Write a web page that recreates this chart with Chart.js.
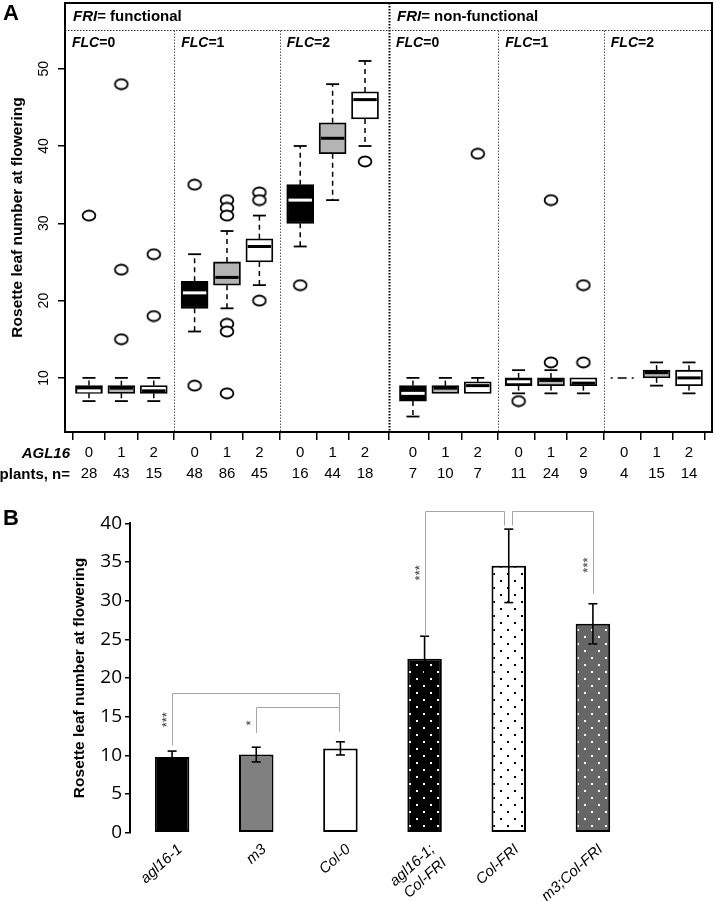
<!DOCTYPE html>
<html lang="en">
<head>
  <meta charset="UTF-8">
  <title>Rosette leaf number at flowering</title>
  <style>
    body {
      margin: 0;
      background: #fff;
      font-family: "Liberation Sans", Arial, sans-serif;
    }
    .page {
      position: relative;
      width: 714px;
      height: 901px;
    }
    .panel-label {
      position: absolute;
      left: 3px;
      font-weight: bold;
      font-size: 22px;
      line-height: 22px;
    }
    canvas {
      position: absolute;
      left: 0;
    }
  </style>
  <script src="https://cdn.jsdelivr.net/npm/chart.js@4.4.1/dist/chart.umd.min.js"></script>
</head>
<body>
  <div class="page">
    <canvas id="boxChart" width="714" height="500" style="top:0"></canvas>
    <canvas id="barChart" width="714" height="401" style="top:500px"></canvas>
    <div class="panel-label" style="top:2px">A</div>
    <div class="panel-label" style="top:507px">B</div>
  </div>

  <script>
    // ---- Panel A: boxplot summaries (FRI x FLC groups, 3 AGL16 copy numbers each) ----
    const agl16Copies = ['0', '1', '2'];
    const flcGroups = ['0', '1', '2', '0', '1', '2'];
    const friGroups = ['functional', 'non-functional'];
    const plantsN = [28, 43, 15, 48, 86, 45, 16, 44, 18, 7, 10, 7, 11, 24, 9, 4, 15, 14];
    const whiskerLow = [7, 7, 7, 16, 19, 22, 27, 33, 40, 5, 8, 8, 8, 8, 8, 10, 9, 8];
    const boxLow = [8, 8, 8, 19, 22, 25, 30, 39, 43.5, 7, 8, 8, 9, 9, 9, 10, 10, 9];
    const boxMedian = [8, 9, 8, 21, 23, 27, 33, 41, 46, 8, 9, 9, 9.5, 10, 9, 10, 11, 10];
    const boxHigh = [9, 9, 9, 22.5, 25, 28, 35, 43, 47, 9, 9, 9.5, 10, 10, 10, 10, 11, 11];
    const whiskerHigh = [10, 10, 10, 26, 29, 31, 40, 48, 51, 10, 10, 10, 11, 11, 10, 10, 12, 12];
    const outlierValues = [
      [31], [48, 24, 15], [26, 18],
      [35, 9], [33, 32, 31, 17, 16, 8], [34, 33, 20],
      [22], [], [38],
      [], [], [39],
      [7], [12, 33], [12, 22],
      [], [], []
    ];
    const yTicksA = [10, 20, 30, 40, 50];

    // ---- Panel B: mean leaf number +/- sd per line ----
    const strains = ['agl16-1', 'm3', 'Col-0', ['agl16-1;', 'Col-FRI'], 'Col-FRI', 'm3;Col-FRI'];
    const meanLeaves = [9.8, 10.1, 10.9, 22.5, 34.5, 27.0];
    const sdLeaves = [0.75, 0.95, 0.85, 2.9, 4.75, 2.6];
    const yTicksB = [0, 5, 10, 15, 20, 25, 30, 35, 40];
    // significance brackets: tested line vs its control
    const sigTest = [0, 1, 3, 5];
    const sigControl = [2, 2, 4, 4];
    const sigLabel = ['***', '*', '***', '***'];
    const sigLevel = [18.1, 16.2, 41.6, 41.6];
    const sigTestEnd = [11.3, 12.9, 25.4, 30.9];
    const sigControlEnd = [13.1, 13.1, 39.7, 39.7];
    const sigStarAt = [14.6, 14.2, 33.6, 34.6];

    const FONT = '"Liberation Sans", Arial, sans-serif';
    Chart.defaults.font.family = FONT;
    Chart.defaults.color = '#000';

    // x position of box i: groups of three, a little extra gap between FRI halves
    const boxX = i => Math.floor(i / 3) * 3.26 + (i % 3) + (i >= 9 ? 0.22 : 0);

    function seg(ctx, x1, y1, x2, y2) {
      ctx.beginPath();
      ctx.moveTo(x1, y1);
      ctx.lineTo(x2, y2);
      ctx.stroke();
    }

    function richText(ctx, parts, x, y, size) {
      parts.forEach(([txt, italic]) => {
        ctx.font = (italic ? 'italic ' : '') + 'bold ' + size + 'px ' + FONT;
        ctx.fillText(txt, x, y);
        x += ctx.measureText(txt).width;
      });
    }

    // open circle, slightly wider than tall like the figure
    const ring = document.createElement('canvas');
    ring.width = 16;
    ring.height = 13;
    (function () {
      const c = ring.getContext('2d');
      c.beginPath();
      c.ellipse(8, 6.5, 6.4, 5, 0, 0, Math.PI * 2);
      c.fillStyle = '#fff';
      c.fill();
      c.lineWidth = 1.8;
      c.strokeStyle = '#000';
      c.stroke();
    })();

    const boxFills = ['#000000', '#b4b4b4', '#ffffff'];
    const boxDatasets = agl16Copies.map((copy, k) => ({
      type: 'bar',
      label: 'AGL16 = ' + copy,
      data: boxMedian.map((_, i) => i).filter(i => i % 3 === k)
        .map(i => ({ x: boxX(i), y: [boxLow[i], boxHigh[i]] })),
      backgroundColor: boxFills[k],
      borderColor: '#000',
      borderWidth: 1.8,
      borderSkipped: false,
      barThickness: 27,
      grouped: false,
      order: 2
    }));

    const outlierPoints = [];
    outlierValues.forEach((vals, i) => vals.forEach(v => outlierPoints.push({ x: boxX(i), y: v })));

    const boxParts = {
      id: 'boxParts',
      beforeDatasetsDraw(chart) {
        const { ctx, chartArea: a, scales: { x, y } } = chart;
        const headY = Math.round(y.getPixelForValue(55)) + 0.5;
        ctx.save();
        ctx.setLineDash([1.5, 1.5]);
        for (let g = 0; g < 5; g++) {
          const sx = Math.round((x.getPixelForValue(boxX(3 * g + 2)) + x.getPixelForValue(boxX(3 * g + 3))) / 2) + 0.5;
          const middle = g === 2;
          ctx.strokeStyle = middle ? '#000' : '#555';
          ctx.lineWidth = middle ? 2 : 1;
          seg(ctx, sx, middle ? a.top : headY, sx, a.bottom);
        }
        ctx.strokeStyle = '#333';
        ctx.lineWidth = 1;
        seg(ctx, a.left, headY, a.right, headY);
        ctx.restore();
      },
      afterDatasetsDraw(chart) {
        const { ctx, scales: { x, y } } = chart;
        const half = 13.5, staple = 6.5;
        ctx.save();
        boxMedian.forEach((m, i) => {
          const px = x.getPixelForValue(boxX(i));
          const yLo = y.getPixelForValue(whiskerLow[i]);
          const yQ1 = y.getPixelForValue(boxLow[i]);
          const yQ3 = y.getPixelForValue(boxHigh[i]);
          const yHi = y.getPixelForValue(whiskerHigh[i]);
          let yMed = y.getPixelForValue(m);
          ctx.strokeStyle = '#000';
          ctx.lineWidth = 1.5;
          ctx.setLineDash([5, 4]);
          if (whiskerHigh[i] > boxHigh[i]) seg(ctx, px, yQ3, px, yHi);
          if (whiskerLow[i] < boxLow[i]) seg(ctx, px, yQ1, px, yLo);
          ctx.setLineDash([]);
          ctx.lineWidth = 1.8;
          if (whiskerHigh[i] > boxHigh[i]) seg(ctx, px - staple, yHi, px + staple, yHi);
          if (whiskerLow[i] < boxLow[i]) seg(ctx, px - staple, yLo, px + staple, yLo);
          if (boxLow[i] === boxHigh[i]) {
            ctx.lineWidth = 1.5;
            ctx.setLineDash([2, 5, 9, 5]);
            seg(ctx, px - half, yMed, px + half, yMed);
            ctx.setLineDash([]);
          } else {
            yMed = Math.min(Math.max(yMed, yQ3 + 2.5), yQ1 - 2.5);
            ctx.lineWidth = 3;
            ctx.strokeStyle = i % 3 === 0 ? '#fff' : '#000';
            seg(ctx, px - half + 1.8, yMed, px + half - 1.8, yMed);
          }
        });
        ctx.restore();
      },
      afterDraw(chart) {
        const { ctx, chartArea: a, scales: { x, y } } = chart;
        const headY = y.getPixelForValue(55);
        ctx.save();
        ctx.strokeStyle = '#000';
        ctx.lineWidth = 2;
        ctx.strokeRect(a.left, a.top, a.right - a.left, a.bottom - a.top);

        ctx.fillStyle = '#000';
        ctx.textBaseline = 'alphabetic';
        ctx.textAlign = 'left';
        const bounds = [a.left];
        for (let g = 0; g < 5; g++) {
          bounds.push((x.getPixelForValue(boxX(3 * g + 2)) + x.getPixelForValue(boxX(3 * g + 3))) / 2);
        }
        friGroups.forEach((f, h) => {
          richText(ctx, [['FRI', true], ['= ' + f, false]], bounds[h * 3] + 8, a.top + 18, 15);
        });
        flcGroups.forEach((f, g) => {
          richText(ctx, [['FLC', true], ['=' + f, false]], bounds[g] + 7, headY + 17, 14);
        });

        ctx.textAlign = 'right';
        ctx.font = 'italic bold 15px ' + FONT;
        ctx.fillText('AGL16', 70, x.top + 26);
        ctx.font = 'bold 15px ' + FONT;
        ctx.fillText('plants, n=', 70, x.top + 47);
        ctx.restore();
      }
    };

    new Chart(document.getElementById('boxChart'), {
      type: 'bar',
      data: {
        datasets: [
          ...boxDatasets,
          {
            type: 'scatter',
            label: 'outliers',
            data: outlierPoints,
            pointStyle: ring,
            pointRadius: 6,
            order: 1
          }
        ]
      },
      options: {
        responsive: false,
        animation: false,
        layout: { autoPadding: false, padding: { top: 3, right: 2, left: 0, bottom: 0 } },
        plugins: { legend: { display: false }, tooltip: { enabled: false } },
        scales: {
          x: {
            type: 'linear',
            min: -0.74,
            max: 19.23,
            offset: false,
            afterBuildTicks: s => { s.ticks = plantsN.map((_, i) => ({ value: boxX(i) })); },
            afterFit: s => { s.height = 68; s.paddingLeft = 0; s.paddingRight = 0; },
            grid: { drawOnChartArea: false, drawTicks: true, tickLength: 8, color: '#000', lineWidth: 1.5 },
            border: { display: false },
            ticks: {
              autoSkip: false,
              minRotation: 0,
              maxRotation: 0,
              padding: 2,
              color: '#000',
              font: { size: 15, lineHeight: 1.4 },
              callback: (v, i) => [agl16Copies[i % 3], String(plantsN[i])]
            }
          },
          y: {
            min: 3,
            max: 58.5,
            afterBuildTicks: s => { s.ticks = yTicksA.map(v => ({ value: v })); },
            afterFit: s => { s.width = 65; s.paddingTop = 0; s.paddingBottom = 0; },
            grid: { drawOnChartArea: false, tickLength: 7, color: '#000', lineWidth: 1.5 },
            border: { display: false },
            ticks: { minRotation: 90, maxRotation: 90, crossAlign: 'center', padding: 6, color: '#000', font: { size: 14 } },
            title: {
              display: true,
              text: 'Rosette leaf number at flowering',
              color: '#000',
              font: { size: 15.5, weight: 'bold' },
              padding: { top: 8, bottom: 0 }
            }
          }
        }
      },
      plugins: [boxParts]
    });

    // ---- Panel B ----
    const barCtx = document.getElementById('barChart').getContext('2d');

    function dotted(bg, dot) {
      const c = document.createElement('canvas');
      c.width = 14;
      c.height = 14;
      const g = c.getContext('2d');
      g.fillStyle = bg;
      g.fillRect(0, 0, 14, 14);
      g.fillStyle = dot;
      g.fillRect(3, 3, 2, 2);
      g.fillRect(10, 10, 2, 2);
      return barCtx.createPattern(c, 'repeat');
    }

    const barFills = ['#000000', '#808080', '#ffffff',
      dotted('#000000', '#ffffff'), dotted('#ffffff', '#000000'), dotted('#666666', '#ffffff')];

    const errorBars = {
      id: 'errorBars',
      afterDatasetsDraw(chart) {
        const { ctx, scales: { x, y } } = chart;
        ctx.save();
        ctx.strokeStyle = '#000';
        ctx.lineWidth = 1.6;
        meanLeaves.forEach((m, i) => {
          const px = x.getPixelForValue(i);
          const yTop = y.getPixelForValue(m + sdLeaves[i]);
          const yBot = y.getPixelForValue(m - sdLeaves[i]);
          seg(ctx, px, yTop, px, yBot);
          seg(ctx, px - 4.5, yTop, px + 4.5, yTop);
          seg(ctx, px - 4.5, yBot, px + 4.5, yBot);
        });

        // significance brackets
        ctx.strokeStyle = '#a6a6a6';
        ctx.lineWidth = 1;
        sigTest.forEach((t, j) => {
          const c = sigControl[j];
          const shared = sigControl.filter((cc, k) => cc === c && sigLevel[k] === sigLevel[j]).length > 1;
          const shift = shared ? (t < c ? -4 : 4) : 0;
          const tx = Math.round(x.getPixelForValue(t)) + 0.5;
          const cx = Math.round(x.getPixelForValue(c) + shift) - 0.5;
          const yl = Math.round(y.getPixelForValue(sigLevel[j])) + 0.5;
          ctx.beginPath();
          ctx.moveTo(tx, y.getPixelForValue(sigTestEnd[j]));
          ctx.lineTo(tx, yl);
          ctx.lineTo(cx, yl);
          ctx.lineTo(cx, y.getPixelForValue(sigControlEnd[j]));
          ctx.stroke();

          ctx.save();
          ctx.translate(tx - 5, y.getPixelForValue(sigStarAt[j]));
          ctx.rotate(-Math.PI / 2);
          ctx.fillStyle = '#333';
          ctx.font = '13px ' + FONT;
          ctx.textAlign = 'center';
          ctx.textBaseline = 'middle';
          ctx.fillText(sigLabel[j], 0, 0);
          ctx.restore();
        });
        ctx.restore();
      }
    };

    new Chart(barCtx, {
      type: 'bar',
      data: {
        labels: strains,
        datasets: [{
          label: 'Rosette leaf number at flowering',
          data: meanLeaves,
          backgroundColor: barFills,
          borderColor: '#000',
          borderWidth: 2,
          borderSkipped: false,
          barPercentage: 0.41,
          categoryPercentage: 1
        }]
      },
      options: {
        responsive: false,
        animation: false,
        layout: { autoPadding: false, padding: { top: 23.3, right: 79, left: 0, bottom: 0 } },
        plugins: { legend: { display: false }, tooltip: { enabled: false } },
        scales: {
          x: {
            grid: { display: false, drawTicks: false },
            border: { display: false },
            afterFit: s => { s.height = 68.3; s.paddingLeft = 0; s.paddingRight = 0; },
            ticks: {
              autoSkip: false,
              minRotation: 42,
              maxRotation: 42,
              padding: 8,
              labelOffset: 8,
              color: '#000',
              font: { size: 15, style: 'italic', lineHeight: 1.2 }
            }
          },
          y: {
            min: 0,
            max: 40,
            afterBuildTicks: s => { s.ticks = yTicksB.map(v => ({ value: v })); },
            afterFit: s => { s.width = 130; s.paddingTop = 0; s.paddingBottom = 0; },
            grid: { drawOnChartArea: false, tickLength: 5, color: '#000', lineWidth: 1.5 },
            border: { display: true, color: '#000', width: 2 },
            ticks: { padding: 3, color: '#000', font: { family: '"Open Sans", sans-serif', size: 19 } },
            title: {
              display: true,
              text: 'Rosette leaf number at flowering',
              color: '#000',
              font: { size: 15.5, weight: 'bold' },
              padding: { top: 70, bottom: 0 }
            }
          }
        }
      },
      plugins: [errorBars]
    });
  </script>
</body>
</html>
